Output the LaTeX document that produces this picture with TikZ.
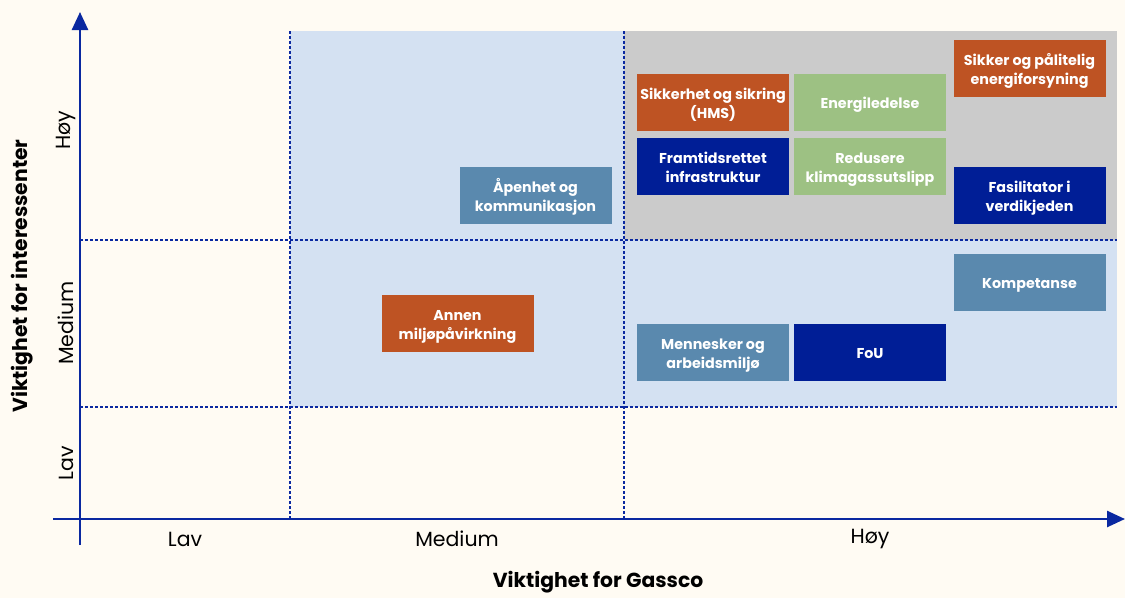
\documentclass[tikz,border=0pt]{standalone}
\usepackage{fontspec}
\setmainfont{Poppins}
\usetikzlibrary{arrows.meta}
\definecolor{bgc}{HTML}{FFFBF3}
\definecolor{axc}{HTML}{0A28A0}
\definecolor{lbl}{HTML}{D4E1F2}
\definecolor{grz}{HTML}{CBCBCB}
\definecolor{orc}{HTML}{BE5323}
\definecolor{grc}{HTML}{9DC183}
\definecolor{dbc}{HTML}{001E96}
\definecolor{sbc}{HTML}{5A89AE}
\newcommand\bxt[1]{\raisebox{-2.5pt}[\height][\depth]{\begin{tabular}{@{}c@{}}#1\end{tabular}}}
\tikzset{
  box/.style={minimum width=152pt,minimum height=57pt,inner sep=1pt,text=white,font=\fontsize{14.3}{19}\selectfont\bfseries},
  obox/.style={box,fill=orc},
  gbox/.style={box,fill=grc},
  dbox/.style={box,fill=dbc},
  sbox/.style={box,fill=sbc},
  grid/.style={axc,line width=1.1pt,dash pattern=on 3pt off 2pt},
  axis/.style={axc,line width=2.6pt},
  lvl/.style={font=\fontsize{20.5}{22}\selectfont,text=black},
  ttl/.style={font=\fontsize{20.3}{22}\selectfont\bfseries,text=black}
}
\begin{document}
\begin{tikzpicture}[x=1pt,y=-1pt]
\useasboundingbox (0,0) rectangle (1125,598);
\fill[bgc] (0,0) rectangle (1125,598);
% regions
\fill[lbl] (290,31) rectangle (1117,407);
\fill[grz] (624,31) rectangle (1117,240);
% grid
\draw[grid] (290,31) -- (290,519);
\draw[grid] (624,31) -- (624,519);
\draw[grid] (80,240) -- (1117,240);
\draw[grid] (80,407) -- (1117,407);
% axes
\coordinate (yb) at (80,545);
\coordinate (yt) at (80,12);
\coordinate (xl) at (53,519);
\coordinate (xr) at (1125,519);
\draw[axis,-{Triangle[width=16pt,length=18pt]}] (yb) -- (yt);
\draw[axis,-{Triangle[width=16pt,length=18pt]}] (xl) -- (xr);
% axis level labels
\node[lvl] (xlav) at (185,539) {Lav};
\node[lvl] (xmed) at (457,539) {Medium};
\node[lvl] (xhoy) at (870,539) {Høy};
\node[lvl,rotate=90] (ylav) at (66,463) {Lav};
\node[lvl,rotate=90] (ymed) at (66,323) {Medium};
\node[lvl,rotate=90] (yhoy) at (66,130) {Høy};
% titles
\node[ttl] (xt) at (598,582) {Viktighet for Gassco};
\node[ttl,rotate=90] (yt2) at (22,276) {Viktighet for interessenter};
% boxes
\node[obox] (hms) at (713,102.5) {\bxt{Sikkerhet og sikring\\(HMS)}};
\node[gbox] (ene) at (870,102.5) {\bxt{Energiledelse}};
\node[obox] (sik) at (1029.5,68.5) {\bxt{Sikker og pålitelig\\energiforsyning}};
\node[dbox] (fra) at (713,166.5) {\bxt{Framtidsrettet\\infrastruktur}};
\node[gbox] (red) at (870,166.5) {\bxt{Redusere\\klimagassutslipp}};
\node[dbox] (fas) at (1029.5,195.5) {\bxt{Fasilitator i\\verdikjeden}};
\node[sbox] (ape) at (535.5,195.5) {\bxt{Åpenhet og\\kommunikasjon}};
\node[sbox] (kom) at (1029.5,282.5) {\bxt{Kompetanse}};
\node[obox] (ann) at (457.5,323.5) {\bxt{Annen\\miljøpåvirkning}};
\node[sbox] (men) at (713,352.5) {\bxt{Mennesker og\\arbeidsmiljø}};
\node[dbox] (fou) at (870,352.5) {\bxt{FoU}};
\end{tikzpicture}
\end{document}
